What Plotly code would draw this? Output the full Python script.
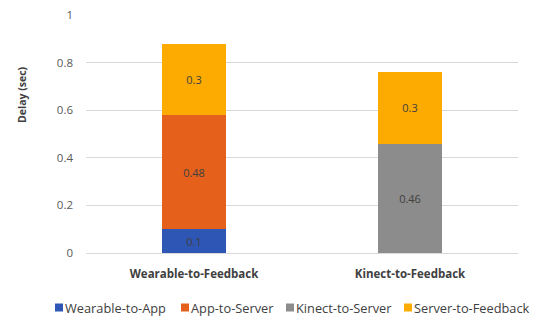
import plotly.graph_objects as go

categories = ["Wearable-to-Feedback", "Kinect-to-Feedback"]
series_names = ["Wearable-to-App", "App-to-Server", "Kinect-to-Server", "Server-to-Feedback"]
wearable_to_app = [0.1, None]
app_to_server = [0.48, None]
kinect_to_server = [None, 0.46]
server_to_feedback = [0.3, 0.3]
y_ticks = [0, 0.2, 0.4, 0.6, 0.8, 1]
y_tick_labels = ["0", "0.2", "0.4", "0.6", "0.8", "1"]

colors = ["#2E56B5", "#E5601B", "#8C8C8C", "#FDAB00"]
series_values = [wearable_to_app, app_to_server, kinect_to_server, server_to_feedback]

W, H = 536, 316
L, R, T, B = 86, 18, 15, 63
pw, ph = W - L - R, H - T - B


def px_x(x):
    return (x - L) / pw


def px_y(y):
    return (H - B - y) / ph


fig = go.Figure()
for name, vals, col in zip(series_names, series_values, colors):
    fig.add_trace(go.Bar(
        name=name, x=categories, y=vals, marker_color=col,
        marker_line_width=0, showlegend=False,
        text=[("" if v is None else f"{v:g}") for v in vals],
        textposition="inside", insidetextanchor="middle",
        textfont=dict(size=11, color="#404040", family="Open Sans"),
    ))

# Legend drawn as shapes + annotations (layout elements)
legend_x = [55, 181, 286, 404]
shapes = []
annotations = []
for name, col, lx in zip(series_names, colors, legend_x):
    shapes.append(dict(type="rect", xref="paper", yref="paper",
                       x0=px_x(lx), x1=px_x(lx + 8), y0=px_y(311.5), y1=px_y(303.5),
                       fillcolor=col, line_width=0))
    annotations.append(dict(text=name, xref="paper", yref="paper",
                            x=px_x(lx + 9), y=px_y(307.5), xanchor="left", yanchor="middle",
                            showarrow=False, borderpad=0,
                            font=dict(size=12.8, color="#404040", family="Open Sans")))

annotations.append(dict(text="<b>Delay (sec)</b>", xref="paper", yref="paper",
                        x=px_x(22), y=px_y(95), xanchor="center", yanchor="middle",
                        textangle=-90, showarrow=False,
                        font=dict(size=10.5, color="#404040", family="Open Sans")))

fig.update_layout(
    barmode="stack", bargap=0.7,
    width=W, height=H,
    margin=dict(l=L, r=R, t=T, b=B, autoexpand=False),
    plot_bgcolor="white", paper_bgcolor="white",
    font=dict(family="Open Sans", size=11, color="#595959"),
    showlegend=False,
    shapes=shapes,
    annotations=annotations,
    yaxis=dict(range=[0, 1], tickvals=y_ticks, ticktext=y_tick_labels,
               showgrid=True, gridcolor="#D9D9D9", gridwidth=1,
               zeroline=True, zerolinecolor="#D9D9D9", zerolinewidth=1,
               showline=False, ticks="", ticklabelstandoff=12, automargin=False,
               tickfont=dict(size=11.5, color="#595959")),
    xaxis=dict(showline=False, ticks="", showgrid=False, automargin=False,
               ticklabelstandoff=12,
               tickfont=dict(size=11.5, color="#404040"),
               tickvals=categories, ticktext=[f"<b>{c}</b>" for c in categories]),
)

fig.write_html("out.html", config={"displayModeBar": False},
               post_script="document.body.style.margin='0';document.body.style.overflow='hidden';")
